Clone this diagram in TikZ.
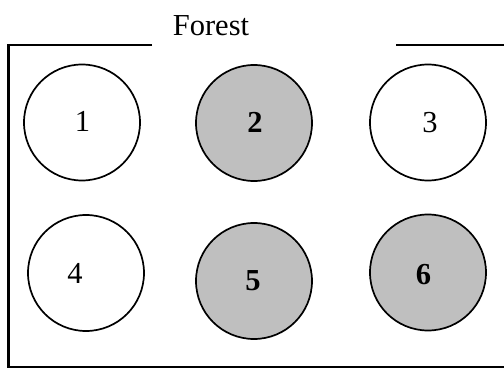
\documentclass[tikz,border=0pt]{standalone}
\usepackage{fontspec}
\setmainfont{Liberation Serif}
\begin{document}
\begin{tikzpicture}[x=1pt,y=-1pt,
  frame/.style={line width=2.2pt},
  disc/.style={circle,draw=black,line width=1.7pt,minimum size=116pt,inner sep=0pt},
  plain/.style={disc,fill=white},
  shaded/.style={disc,fill=gray!50!white},
  num/.style={anchor=base,inner sep=0pt,font=\fontsize{30.5}{36}\selectfont},
  bnum/.style={num,font=\fontsize{30.5}{36}\selectfont\bfseries}]
\useasboundingbox (0,0) rectangle (504,369);
% frame
\coordinate (tl) at (8.5,44.7);
\coordinate (tlend) at (152,44.7);
\coordinate (bl) at (8.5,367.3);
\coordinate (br) at (505,367.3);
\coordinate (trstart) at (396,44.7);
\coordinate (tr) at (505,44.7);
\draw[frame] (tlend) -- (tl) -- (bl) -- (br);
\draw[frame] (trstart) -- (tr);
\node[num] (title) at (211,35.7) {Forest};
% circles
\node[plain]  (c1) at (82,122.5) {};
\node[shaded] (c2) at (254,123) {};
\node[plain]  (c3) at (428,122.5) {};
\node[plain]  (c4) at (86,273) {};
\node[shaded] (c5) at (254,281) {};
\node[shaded] (c6) at (428,272.5) {};
% labels
\node[num]  (l1) at (82.5,131.7) {1};
\node[bnum] (l2) at (255,132) {2};
\node[num]  (l3) at (430,132) {3};
\node[num]  (l4) at (75,283.5) {4};
\node[bnum] (l5) at (253,290) {5};
\node[bnum] (l6) at (423.5,284) {6};
\end{tikzpicture}
\end{document}
